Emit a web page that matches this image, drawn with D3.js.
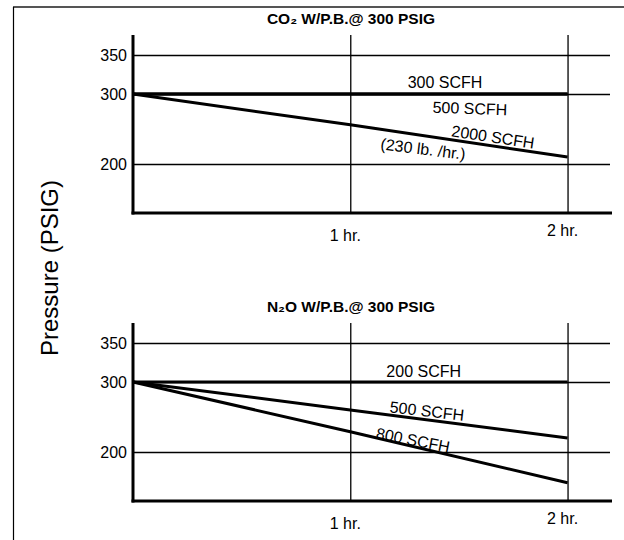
<!DOCTYPE html>
<html>
<head>
<meta charset="utf-8">
<script src="https://cdn.jsdelivr.net/npm/d3@7"></script>
<style>
  html, body { margin: 0; padding: 0; background: #fff; }
  svg { display: block; font-family: Arial, "Liberation Sans", sans-serif; }
</style>
</head>
<body>
<svg id="chart" width="624" height="540"></svg>
<script>
// ---- data ----
const hours = [0, 1, 2];
const hourTicks = [1, 2];
const hourLabels = ["1 hr.", "2 hr."];
const pressureTicks = [200, 300, 350];

const co2Series = ["300 SCFH", "500 SCFH", "2000 SCFH"];
const co2_300 = [300, 300, 300];
const co2_500 = [300, 300, 300];
const co2_2000 = [300, 256, 210];

const n2oSeries = ["200 SCFH", "500 SCFH", "800 SCFH"];
const n2o_200 = [300, 300, 300];
const n2o_500 = [300, 260, 220];
const n2o_800 = [300, 229, 156];

const titles = ["CO\u2082 W/P.B.@ 300 PSIG", "N\u2082O W/P.B.@ 300 PSIG"];
const yTitle = "Pressure (PSIG)";

// ---- layout ----
const svg = d3.select("#chart");
const W = 624, H = 540;
const left = 133, right = 612;
const panelH = 178;
const panelTops = [35, 323];

const x = d3.scaleLinear().domain([0, 2.2]).range([left, 611]);
// the original drawing is not strictly linear above 300
const yRel = d3.scaleLinear().domain([130, 200, 300, 350, 376]).range([panelH, 129, 59, 20, 0]);

// frame
svg.append("line").attr("x1", 13).attr("x2", W).attr("y1", 7).attr("y2", 7)
  .attr("stroke", "#555").attr("stroke-width", 2);
svg.append("line").attr("x1", 13.5).attr("x2", 13.5).attr("y1", 7).attr("y2", H)
  .attr("stroke", "#000").attr("stroke-width", 1.2);

// y-axis title
svg.append("text")
  .attr("transform", "translate(58,268) rotate(-90)")
  .attr("text-anchor", "middle")
  .attr("font-size", 24)
  .text(yTitle);

// label placement (absolute page coordinates for the slanted ones)
const panels = [
  {
    title: titles[0],
    series: [
      { name: co2Series[0], values: co2_300 },
      { name: co2Series[1], values: co2_500 },
      { name: co2Series[2], values: co2_2000 }
    ],
    labels: [
      { text: co2Series[0], h: 1.436, v: 300, dy: -6, angle: 0, base: true },
      { text: co2Series[1], h: 1.55, v: 300, dy: 20, angle: 2, base: true },
      { text: co2Series[2], px: 493, py: 137, angle: 8.5 },
      { text: "(230 lb. /hr.)", px: 423, py: 149, angle: 7 }
    ]
  },
  {
    title: titles[1],
    series: [
      { name: n2oSeries[0], values: n2o_200 },
      { name: n2oSeries[1], values: n2o_500 },
      { name: n2oSeries[2], values: n2o_800 }
    ],
    labels: [
      { text: n2oSeries[0], h: 1.338, v: 300, dy: -5, angle: 0, base: true },
      { text: n2oSeries[1], px: 427, py: 411, angle: 6.5 },
      { text: n2oSeries[2], px: 413, py: 440, angle: 11 }
    ]
  }
];

panels.forEach((p, i) => {
  const top = panelTops[i];
  const g = svg.append("g").attr("transform", `translate(0,${top})`);
  const y = yRel;

  // title
  g.append("text")
    .attr("x", 351).attr("y", -11)
    .attr("text-anchor", "middle")
    .attr("font-size", 15.5).attr("font-weight", "bold")
    .text(p.title);

  // horizontal grid + y tick labels
  const yAxis = d3.axisLeft(y).tickValues(pressureTicks).tickSize(-(right - 2 - left)).tickPadding(6)
    .tickFormat(d3.format("d"));
  const ya = g.append("g").attr("transform", `translate(${left},0)`).call(yAxis);
  ya.select(".domain").remove();
  ya.selectAll(".tick line").attr("stroke", "#000").attr("stroke-width", 1.3);
  ya.selectAll(".tick text").attr("font-size", 16).attr("fill", "#000")
    .attr("font-family", "Arial, 'Liberation Sans', sans-serif")
    .attr("dy", "0.35em");

  // vertical grid
  const xAxis = d3.axisBottom(x).tickValues(hourTicks).tickSize(-panelH).tickFormat("");
  const xa = g.append("g").attr("transform", `translate(0,${panelH})`).call(xAxis);
  xa.select(".domain").remove();
  xa.selectAll(".tick line").attr("stroke", "#000").attr("stroke-width", 1.3);

  // x tick labels
  g.selectAll(".hlabel").data(hourTicks).enter().append("text")
    .attr("class", "hlabel")
    .attr("x", d => x(d) - 5)
    .attr("y", (d, k) => panelH + (k === 0 ? 28 : 23))
    .attr("text-anchor", "middle")
    .attr("font-size", 16)
    .text((d, k) => hourLabels[k]);

  // axis lines
  g.append("line").attr("x1", left).attr("x2", left).attr("y1", 0).attr("y2", panelH + 1.5)
    .attr("stroke", "#000").attr("stroke-width", 3);
  g.append("line").attr("x1", left - 1.5).attr("x2", right).attr("y1", panelH).attr("y2", panelH)
    .attr("stroke", "#000").attr("stroke-width", 3);

  // data lines
  const line = d3.line().x((d, k) => x(hours[k])).y(d => y(d));
  g.selectAll(".series").data(p.series).enter().append("path")
    .attr("d", s => line(s.values))
    .attr("fill", "none").attr("stroke", "#000").attr("stroke-width", 3);

  // labels
  p.labels.forEach(l => {
    let lx, ly;
    if (l.base) { lx = x(l.h); ly = y(l.v) + l.dy; }
    else { lx = l.px; ly = l.py - top; }
    const t = g.append("text")
      .attr("transform", `translate(${lx},${ly}) rotate(${l.angle})`)
      .attr("text-anchor", "middle")
      .attr("font-size", 16)
      .text(l.text);
    if (!l.base) t.attr("dy", "0.35em");
  });
});
</script>
</body>
</html>
